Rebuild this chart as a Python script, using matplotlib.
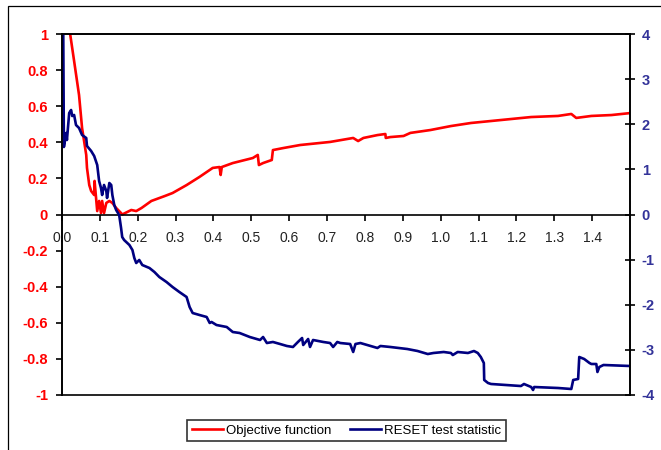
import matplotlib
matplotlib.use('Agg')
import matplotlib.pyplot as plt
from matplotlib.patches import Rectangle

# objective function (left axis)
obj_x = [0.018, 0.032, 0.045, 0.053, 0.064, 0.066, 0.072, 0.077, 0.085, 0.086, 0.093, 0.098,
         0.103, 0.106, 0.111, 0.117, 0.125, 0.133, 0.143, 0.156, 0.159, 0.183, 0.196, 0.210,
         0.236, 0.271, 0.292, 0.329, 0.363, 0.398, 0.416, 0.419, 0.422, 0.451, 0.504, 0.517,
         0.520, 0.531, 0.554, 0.557, 0.584, 0.629, 0.708, 0.769, 0.782, 0.796, 0.833, 0.854,
         0.855, 0.867, 0.902, 0.920, 0.973, 1.027, 1.080, 1.133, 1.186, 1.239, 1.310, 1.345,
         1.358, 1.398, 1.451, 1.501]
obj_y = [1.05, 0.850, 0.662, 0.479, 0.330, 0.258, 0.163, 0.130, 0.108, 0.186, 0.019, 0.075,
         0.008, 0.075, 0.008, 0.064, 0.075, 0.064, 0.036, 0.008, 0.0, 0.025, 0.019, 0.036,
         0.075, 0.102, 0.119, 0.163, 0.208, 0.258, 0.263, 0.219, 0.263, 0.285, 0.313, 0.330,
         0.274, 0.285, 0.302, 0.357, 0.368, 0.385, 0.402, 0.424, 0.407, 0.424, 0.440, 0.446,
         0.424, 0.429, 0.435, 0.452, 0.468, 0.490, 0.507, 0.518, 0.529, 0.540, 0.546, 0.557,
         0.535, 0.546, 0.551, 0.562]

# RESET test statistic (right axis)
reset_x = [0.0, 0.003, 0.005, 0.011, 0.013, 0.019, 0.024, 0.027, 0.032, 0.037, 0.045, 0.053,
           0.064, 0.066, 0.077, 0.085, 0.093, 0.098, 0.103, 0.106, 0.111, 0.117, 0.119, 0.125,
           0.130, 0.133, 0.138, 0.143, 0.151, 0.156, 0.159, 0.164, 0.178, 0.186, 0.191, 0.196,
           0.204, 0.212, 0.231, 0.244, 0.257, 0.276, 0.292, 0.310, 0.329, 0.337, 0.345, 0.363,
           0.382, 0.390, 0.395, 0.408, 0.435, 0.451, 0.469, 0.496, 0.523, 0.531, 0.541, 0.557,
           0.576, 0.594, 0.610, 0.623, 0.634, 0.637, 0.650, 0.655, 0.663, 0.690, 0.708, 0.716,
           0.727, 0.735, 0.761, 0.769, 0.775, 0.788, 0.806, 0.833, 0.841, 0.867, 0.912, 0.939,
           0.966, 0.981, 1.008, 1.027, 1.032, 1.045, 1.072, 1.088, 1.098, 1.106, 1.114, 1.115,
           1.125, 1.133, 1.212, 1.220, 1.239, 1.244, 1.247, 1.310, 1.345, 1.350, 1.363, 1.366,
           1.379, 1.393, 1.398, 1.411, 1.414, 1.419, 1.430, 1.499]
reset_y = [4.5, 4.5, 1.496, 1.806, 1.651, 2.249, 2.316, 2.183, 2.205, 1.983, 1.917, 1.762,
           1.695, 1.518, 1.407, 1.296, 1.097, 0.742, 0.587, 0.432, 0.654, 0.521, 0.366, 0.698,
           0.654, 0.432, 0.211, 0.100, -0.011, -0.299, -0.499, -0.565, -0.676, -0.787, -0.964, -1.075,
           -1.008, -1.119, -1.186, -1.274, -1.385, -1.496, -1.607, -1.718, -1.828, -2.050, -2.183, -2.227,
           -2.271, -2.404, -2.382, -2.449, -2.493, -2.604, -2.626, -2.715, -2.781, -2.715, -2.848, -2.825,
           -2.870, -2.914, -2.936, -2.825, -2.737, -2.892, -2.759, -2.936, -2.781, -2.825, -2.848, -2.936,
           -2.825, -2.848, -2.870, -3.047, -2.870, -2.848, -2.892, -2.958, -2.914, -2.936, -2.981, -3.025,
           -3.092, -3.069, -3.047, -3.069, -3.114, -3.047, -3.069, -3.025, -3.069, -3.158, -3.291, -3.667,
           -3.734, -3.756, -3.801, -3.756, -3.823, -3.889, -3.823, -3.845, -3.867, -3.667, -3.645, -3.158,
           -3.202, -3.291, -3.313, -3.313, -3.490, -3.380, -3.335, -3.357]

x_ticks = [i / 10 for i in range(15)]
x_labels = ['%.1f' % t for t in x_ticks]
left_ticks = [-1, -0.8, -0.6, -0.4, -0.2, 0, 0.2, 0.4, 0.6, 0.8, 1]
left_labels = ['-1', '-0.8', '-0.6', '-0.4', '-0.2', '0', '0.2', '0.4', '0.6', '0.8', '1']
right_ticks = [-4, -3, -2, -1, 0, 1, 2, 3, 4]
right_labels = ['-4', '-3', '-2', '-1', '0', '1', '2', '3', '4']

RED = '#FF0000'
NAVY = '#000080'
BLUE_TXT = '#333399'

plt.rcParams['font.family'] = ['Liberation Sans', 'DejaVu Sans']
plt.rcParams['axes.unicode_minus'] = False

fig = plt.figure(figsize=(6.61, 4.50), dpi=100)
fig.patch.set_facecolor('white')

# outer chart border (left/top only visible)
fig.patches.append(Rectangle((8 / 661, -0.1), 1.2, (450 - 6) / 450 + 0.1,
                             transform=fig.transFigure, fill=False,
                             edgecolor='black', linewidth=0.9))

ax1 = fig.add_axes([62 / 661, 55 / 450, (630 - 62) / 661, (395 - 34) / 450])
ax2 = ax1.twinx()

l1, = ax1.plot(obj_x, obj_y, color=RED, linewidth=1.9, label='Objective function')
l2, = ax2.plot(reset_x, reset_y, color=NAVY, linewidth=1.9, label='RESET test statistic')

ax1.set_xlim(0, 1.5)
ax1.set_ylim(-1, 1)
ax2.set_ylim(-4, 4)

for sp in ['top', 'left', 'right']:
    ax1.spines[sp].set_linewidth(1.2)
ax1.spines['bottom'].set_position(('data', 0))
ax1.spines['bottom'].set_linewidth(1.2)
for sp in ax2.spines.values():
    sp.set_linewidth(1.2)

ax1.set_xticks(x_ticks)
ax1.set_xticklabels(x_labels)
ax1.tick_params(axis='x', direction='out', length=4, width=1.2, pad=8,
                labelsize=10, labelcolor='#222222')

ax1.set_yticks(left_ticks)
ax1.set_yticklabels(left_labels)
ax1.tick_params(axis='y', direction='out', length=4, width=1.2, pad=6,
                labelsize=10.5, labelcolor=RED)
for t in ax1.get_yticklabels():
    t.set_fontweight('bold')

ax2.set_yticks(right_ticks)
ax2.set_yticklabels(right_labels)
ax2.tick_params(axis='y', direction='inout', length=7, width=1.2, pad=5,
                labelsize=10.5, labelcolor=BLUE_TXT)
for t in ax2.get_yticklabels():
    t.set_fontweight('bold')

leg = fig.legend(handles=[l1, l2], loc='center', bbox_to_anchor=(0.524, 0.043),
                 ncol=2, fontsize=9.5, frameon=True, fancybox=False, shadow=False,
                 handlelength=2.4, handletextpad=0.2, columnspacing=1.4,
                 borderpad=0.35)
leg.get_frame().set_edgecolor('black')
leg.get_frame().set_linewidth(1.2)

fig.savefig('out.png', dpi=100, facecolor='white')
